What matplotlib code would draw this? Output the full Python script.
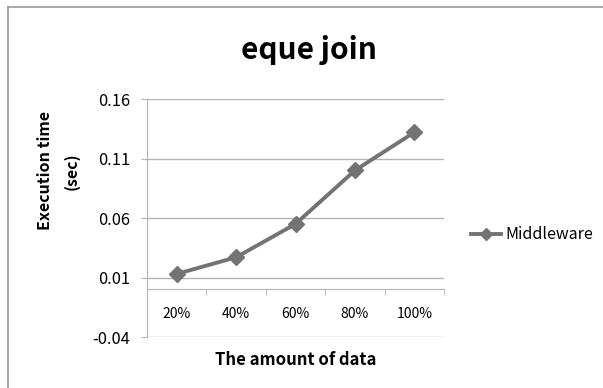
import numpy as np
import matplotlib
matplotlib.use("Agg")
import matplotlib.pyplot as plt
from matplotlib.lines import Line2D

plt.rcParams["font.family"] = ["Noto Sans CJK KR", "DejaVu Sans"]

categories = ["20%", "40%", "60%", "80%", "100%"]
middleware = [0.013, 0.027, 0.055, 0.100, 0.132]
yticks = [-0.04, 0.01, 0.06, 0.11, 0.16]

GRID = "#b3b3b3"
LINE = "#737373"

fig = plt.figure(figsize=(6.03, 3.88), dpi=100)
ax = fig.add_axes([0.2438, 0.1314, 0.4925, 0.6134])

x = np.arange(len(categories))
ax.plot(x, middleware, color=LINE, lw=2.8, marker="D", ms=8.5,
        mfc=LINE, mec=LINE, label="Middleware", zorder=3)

ax.set_ylim(-0.04, 0.16)
ax.set_yticks(yticks)
ax.set_yticklabels([f"{v:.2f}" for v in yticks], fontsize=11.8)
ax.yaxis.grid(True, color=GRID, lw=1)
ax.set_axisbelow(True)

ax.set_xlim(-0.5, len(categories) - 0.5)
ax.set_xticks(x)
ax.set_xticklabels(categories, fontsize=11.8)
ax.set_xticks(np.arange(len(categories) + 1) - 0.5, minor=True)
ax.tick_params(axis="x", which="major", length=0, pad=13)
ax.tick_params(axis="x", which="minor", length=4, color=GRID, direction="out")
ax.tick_params(axis="y", length=4, color=GRID, pad=8)

for s in ("top", "right"):
    ax.spines[s].set_visible(False)
ax.spines["left"].set_color(GRID)
ax.spines["bottom"].set_color(GRID)
ax.spines["bottom"].set_position(("data", 0))

ax.set_xlabel("The amount of data", fontsize=12, fontweight="bold", labelpad=21)
fig.text(0.097, 0.56, "Execution time\n(sec)", rotation=90, ha="center", va="center",
         fontsize=11.5, fontweight="bold", linespacing=1.75)
fig.text(0.513, 0.87, "eque join", ha="center", va="center", fontsize=21.5, fontweight="bold")

handle = Line2D([], [], color=LINE, lw=2.8, marker="D", ms=6, mfc=LINE, mec=LINE)
fig.legend([handle], ["Middleware"], loc="center left", bbox_to_anchor=(0.757, 0.395),
           frameon=False, fontsize=11.5, handlelength=1.9, handletextpad=0.25)

# chart frame edges
fig.add_artist(Line2D([0.0133, 0.0133], [0, 0.982], color="#999999", lw=1.2,
                      transform=fig.transFigure))
fig.add_artist(Line2D([0.0133, 1], [0.982, 0.982], color="#999999", lw=1.2,
                      transform=fig.transFigure))

fig.savefig("out.png", dpi=100)
